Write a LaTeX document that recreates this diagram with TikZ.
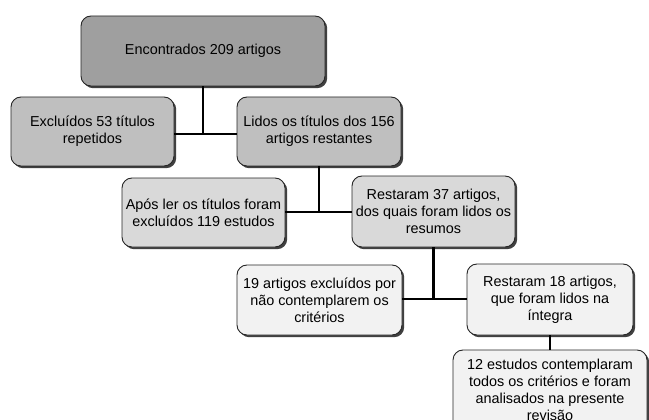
\documentclass[tikz,border=0pt]{standalone}
\usepackage{fontspec}
\setmainfont{Liberation Sans}
\usetikzlibrary{shadows}
\tikzset{
  caixa/.style={draw=black!85, line width=0.9pt, rounded corners=10pt, align=center,
    font=\fontsize{14.4}{17}\selectfont, inner sep=2pt,
    drop shadow={shadow xshift=2.2pt, shadow yshift=-2.2pt, fill=black!75, opacity=1}},
  nivelA/.style={caixa, fill=gray!75},
  nivelB/.style={caixa, fill=gray!50},
  nivelC/.style={caixa, fill=gray!30},
  nivelD/.style={caixa, fill=gray!10},
  ligacao/.style={line width=2.6pt}
}
\begin{document}
\begin{tikzpicture}[x=1pt,y=-1pt]
\useasboundingbox (0,0) rectangle (649,420);
\node[nivelA, minimum width=244pt, minimum height=70pt] (enc) at (203,51) {Encontrados 209 artigos};
\node[nivelB, minimum width=163pt, minimum height=69pt] (rep) at (92.5,131.5) {Excluídos 53 títulos\\repetidos};
\node[nivelB, minimum width=164pt, minimum height=69pt] (lid) at (319,131.5) {Lidos os títulos dos 156\\artigos restantes};
\node[nivelC, minimum width=163pt, minimum height=69pt] (apo) at (203.5,212.5) {Após ler os títulos foram\\excluídos 119 estudos};
\node[nivelC, minimum width=163pt, minimum height=71pt] (res) at (433.5,211.5) {Restaram 37 artigos,\\dos quais foram lidos os\\resumos};
\node[nivelD, minimum width=165pt, minimum height=70pt] (exc) at (319.5,300) {19 artigos excluídos por\\não contemplarem os\\critérios};
\node[nivelD, minimum width=166pt, minimum height=71pt] (int) at (550,299.5) {Restaram 18 artigos,\\que foram lidos na\\íntegra};
\node[nivelD, minimum width=194pt, minimum height=80pt] (fin) at (550,390) {12 estudos contemplaram\\todos os critérios e foram\\analisados na presente\\revisão};
\draw[ligacao] (rep.east |- 0,134) -- (lid.west |- 0,134);
\draw[ligacao] (enc.south) -- (enc.south |- 0,134);
\draw[ligacao] (apo.east |- 0,212) -- (res.west |- 0,212);
\draw[ligacao] (lid.south) -- (lid.south |- 0,212);
\draw[ligacao] (exc.east |- 0,299) -- (int.west |- 0,299);
\draw[ligacao] (res.south) -- (res.south |- 0,299);
\draw[ligacao] (int.south) -- (fin.north);
\end{tikzpicture}
\end{document}
